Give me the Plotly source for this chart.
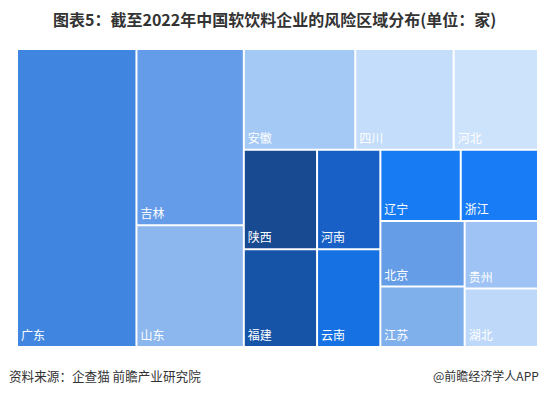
import plotly.graph_objects as go

# Provinces (leaf tiles) and their values (家), read from tile areas
provinces = ["广东", "吉林", "山东", "安徽", "四川", "河北", "陕西", "福建",
             "河南", "云南", "辽宁", "浙江", "北京", "江苏", "贵州", "湖北"]
values = [1761, 936, 647, 555, 490, 420, 361, 354,
          312, 306, 284, 273, 273, 252, 245, 212]
colors = ["#4086e0", "#659ce9", "#8cb6ee", "#a5c9f5", "#c3ddfa", "#cde2fb",
          "#174a91", "#1654a8", "#1960c6", "#1671e2", "#177bf3", "#177cf5",
          "#669de7", "#80b0ec", "#9ec3f4", "#bed8f9"]

# Layout groups (how the tiles are nested in the reference)
group_ids = ["G_B", "G_C", "G_C1", "G_C2", "G_P", "G_Q", "G_D", "G_R", "G_E", "G_S", "G_T"]
group_parents = ["", "", "G_C", "G_C", "G_C2", "G_C2", "G_C2", "G_D", "G_D", "G_E", "G_E"]
province_parents = ["", "G_B", "G_B", "G_C1", "G_C1", "G_C1", "G_P", "G_P",
                    "G_Q", "G_Q", "G_R", "G_R", "G_S", "G_S", "G_T", "G_T"]

# order nodes so siblings appear in reference order
order = ["广东", "G_B", "吉林", "山东", "G_C", "G_C1", "安徽", "四川", "河北",
         "G_C2", "G_P", "陕西", "福建", "G_Q", "河南", "云南", "G_D", "G_R",
         "辽宁", "浙江", "G_E", "G_S", "北京", "江苏", "G_T", "贵州", "湖北"]

ids, parents, vals, texts, cols = [], [], [], [], []
for node in order:
    if node in provinces:
        i = provinces.index(node)
        ids.append(node)
        parents.append(province_parents[i])
        vals.append(values[i])
        texts.append(node)
        cols.append(colors[i])
    else:
        j = group_ids.index(node)
        ids.append(node)
        parents.append(group_parents[j])
        vals.append(0)
        texts.append("")
        cols.append("rgba(255,255,255,0)")

W, H = 548, 395
x0, x1, y0, y1 = 18, 537, 50, 346

fig = go.Figure(go.Treemap(
    ids=ids,
    labels=ids,
    parents=parents,
    values=vals,
    text=texts,
    branchvalues="remainder",
    sort=False,
    texttemplate="%{text}",
    textposition="bottom left",
    textfont=dict(family="Noto Sans CJK SC", size=12, color="white"),
    marker=dict(colors=cols, line=dict(width=0, color="white"),
                pad=dict(t=0, l=0, r=0, b=0), depthfade=False),
    tiling=dict(packing="slice-dice", pad=2),
    pathbar=dict(visible=False),
    hoverinfo="skip",
    domain=dict(x=[x0 / W, x1 / W], y=[1 - y1 / H, 1 - y0 / H]),
))

fig.update_layout(
    width=W, height=H,
    margin=dict(l=0, r=0, t=0, b=0),
    paper_bgcolor="white",
    plot_bgcolor="white",
    showlegend=False,
    annotations=[
        dict(text="<b>图表5：截至2022年中国软饮料企业的风险区域分布(单位：家)</b>",
             x=0.5, y=1 - 19 / H, xref="paper", yref="paper", xanchor="center", yanchor="middle",
             showarrow=False, font=dict(family="Noto Sans CJK SC", size=16, color="#333333")),
        dict(text="资料来源：企查猫 前瞻产业研究院",
             x=7 / W, y=1 - 375 / H, xref="paper", yref="paper", xanchor="left", yanchor="middle",
             showarrow=False, font=dict(family="Noto Sans CJK SC", size=12.6, color="#333333")),
        dict(text="@前瞻经济学人APP",
             x=541 / W, y=1 - 375 / H, xref="paper", yref="paper", xanchor="right", yanchor="middle",
             showarrow=False, font=dict(family="Noto Sans CJK SC", size=12, color="#333333")),
    ],
)

fig.write_html("out.html",
               config={"displayModeBar": False},
               post_script="document.body.style.margin='0';document.body.style.padding='0';")
